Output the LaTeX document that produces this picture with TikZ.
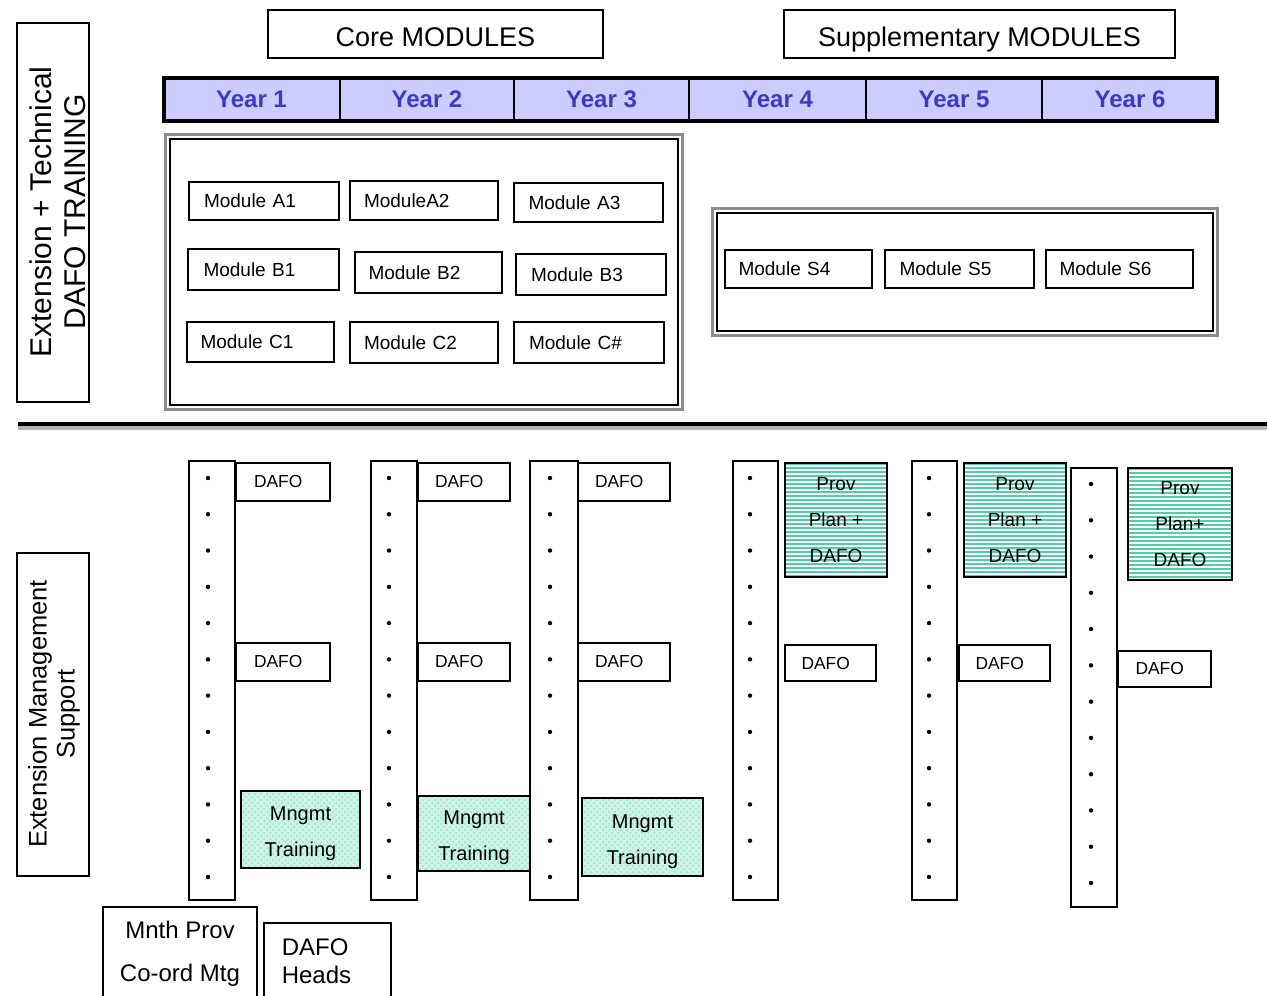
\documentclass[tikz,border=0pt]{standalone}
\usepackage{fontspec}
\setmainfont{Liberation Sans}
\usetikzlibrary{patterns}
\definecolor{yearfill}{HTML}{CCCCFF}
\definecolor{yeartext}{HTML}{3A3AC4}
\definecolor{stripecol}{HTML}{4FCFA6}
\definecolor{mint}{HTML}{CDF3E6}
\definecolor{mintdot}{HTML}{8FDFC2}
\definecolor{framegray}{HTML}{8C8C8C}

% \rectnode{style}{name}{x1}{y1}{x2}{y2}{text}: a node spanning two corners
\newcommand\rectnode[7]{%
  \node[#1,minimum width={(#5-#3)*0.5pt},minimum height={(#6-#4)*0.5pt}]
    (#2) at ({(#3+#5)/2},{(#4+#6)/2}) {#7};}

\begin{document}
\begin{tikzpicture}[x=0.5pt,y=-0.5pt,line width=0.75pt,
  plainbox/.style={draw,inner sep=0pt,outer sep=0pt,align=center},
  hdrbox/.style={plainbox,text height=14pt,text depth=1pt,
    font=\fontsize{13.5}{16}\selectfont},
  sidebox/.style={draw,inner sep=0pt,outer sep=0pt},
  sidetext/.style={rotate=90,align=center,inner sep=0pt},
  yearcell/.style={draw,fill=yearfill,inner sep=0pt,outer sep=0pt,text=yeartext,
    font=\fontsize{12}{14}\selectfont\bfseries},
  modbox/.style={draw,inner sep=0pt,outer sep=0pt,text width=60pt,align=left,
    font=\fontsize{9.5}{11}\selectfont},
  colbox/.style={draw,inner sep=0pt,outer sep=0pt},
  dafobox/.style={draw,fill=white,inner sep=0pt,outer sep=0pt,
    text width=29pt,align=left,font=\fontsize{8.7}{10}\selectfont},
  stripes/.style={path picture={
      \foreach \k in {0,...,30}{
        \draw[stripecol,line width=1.15pt]
          ([yshift=-\k*2pt-0.6pt]path picture bounding box.north west) --
          ([yshift=-\k*2pt-0.6pt]path picture bounding box.north east);
      }}},
  provbox/.style={draw,line width=1pt,fill=white,stripes,inner sep=0pt,outer sep=0pt,
    align=center,font=\fontsize{9.5}{18}\selectfont},
  mngbox/.style={draw,line width=1pt,preaction={fill=mint},
    pattern=crosshatch dots,pattern color=mintdot,inner sep=0pt,outer sep=0pt,
    align=center,text height=29pt,text depth=2pt,font=\fontsize{10}{18}\selectfont},
  bigtext/.style={inner sep=0pt,font=\fontsize{12}{21.5}\selectfont}
]
\useasboundingbox (0,0) rectangle (1267,995);

% ---- headings ----
\rectnode{hdrbox}{core}{268}{10}{603}{58}{Core MODULES}
\rectnode{hdrbox}{supp}{784}{10}{1175}{58}{Supplementary MODULES}

% ---- side labels ----
\rectnode{sidebox}{techbox}{17}{23}{89}{402}{}
\node[sidetext,font=\fontsize{15}{17}\selectfont] (techlabel) at (58,212)
  {Extension + Technical\\DAFO TRAINING};
\rectnode{sidebox}{mgmtbox}{17}{553}{89}{876}{}
\node[sidetext,font=\fontsize{12.75}{14}\selectfont] (mgmtlabel) at (54,714)
  {Extension Management\\Support};

% ---- year bar ----
\rectnode{yearcell}{y1}{163}{77}{340}{122}{Year 1}
\rectnode{yearcell}{y2}{340}{77}{514}{122}{Year 2}
\rectnode{yearcell}{y3}{514}{77}{689}{122}{Year 3}
\rectnode{yearcell}{y4}{689}{77}{866}{122}{Year 4}
\rectnode{yearcell}{y5}{866}{77}{1042}{122}{Year 5}
\rectnode{yearcell}{y6}{1042}{77}{1218}{122}{Year 6}
\rectnode{draw,line width=2pt,inner sep=0pt}{yearbar}{164}{78}{1217}{121}{}

% ---- core module frame ----
\rectnode{draw=framegray,line width=1.5pt,inner sep=0pt}{coreframe}{165.5}{134.5}{682.5}{409.5}{}
\rectnode{sidebox}{coreinner}{170}{139}{678}{405}{}
\rectnode{modbox}{A1}{189}{182}{339}{220}{Module A1}
\rectnode{modbox}{A2}{350}{181}{498}{220}{ModuleA2}
\rectnode{modbox}{A3}{514}{183}{663}{222}{Module A3}
\rectnode{modbox}{B1}{188}{249}{339}{290}{Module B1}
\rectnode{modbox}{B2}{355}{252}{502}{293}{Module B2}
\rectnode{modbox}{B3}{516}{254}{666}{295}{Module B3}
\rectnode{modbox}{C1}{187}{322}{334}{362}{Module C1}
\rectnode{modbox}{C2}{350}{322}{498}{363}{Module C2}
\rectnode{modbox}{C3}{514}{322}{664}{363}{Module C\#}

% ---- supplementary module frame ----
\rectnode{draw=framegray,line width=1.5pt,inner sep=0pt}{suppframe}{712.5}{208.5}{1217.5}{335.5}{}
\rectnode{sidebox}{suppinner}{717}{213}{1213}{331}{}
\rectnode{modbox}{S4}{725}{250}{872}{288}{Module S4}
\rectnode{modbox}{S5}{885}{250}{1034}{288}{Module S5}
\rectnode{modbox}{S6}{1046}{250}{1193}{288}{Module S6}

% ---- separator ----
\coordinate (sepL) at (18,424);
\coordinate (sepR) at (1267,424);
\draw[gray!60,line width=2pt] ([yshift=-1.8pt]sepL) -- ([yshift=-1.8pt]sepR);
\draw[black,line width=1.8pt] (sepL) -- (sepR);

% ---- monthly columns with bullets ----
\rectnode{colbox}{col1}{189}{461}{235}{900}{}
\rectnode{colbox}{col2}{371}{461}{417}{900}{}
\rectnode{colbox}{col3}{530}{461}{578}{900}{}
\rectnode{colbox}{col4}{733}{461}{778}{900}{}
\rectnode{colbox}{col5}{912}{461}{957}{900}{}
\rectnode{colbox}{col6}{1071}{468}{1117}{907}{}
\foreach \cx/\cy in {208/478,389/478,550/478,750/478,929/478,1091/484}{
  \foreach \k in {0,...,11}{
    \fill (\cx,{\cy+\k*36.27}) circle[radius=1.1pt];
  }
}

% ---- DAFO meetings ----
\rectnode{dafobox}{d1a}{236}{463}{330}{501}{DAFO}
\rectnode{dafobox}{d2a}{418}{463}{510}{501}{DAFO}
\rectnode{dafobox}{d3a}{578}{463}{670}{501}{DAFO}
\rectnode{dafobox}{d1b}{236}{643}{330}{681}{DAFO}
\rectnode{dafobox}{d2b}{418}{643}{510}{681}{DAFO}
\rectnode{dafobox}{d3b}{578}{643}{670}{681}{DAFO}
\rectnode{dafobox}{d4b}{785}{645}{876}{681}{DAFO}
\rectnode{dafobox}{d5b}{959}{645}{1050}{681}{DAFO}
\rectnode{dafobox}{d6b}{1118}{651}{1211}{687}{DAFO}

% ---- provincial plans ----
\rectnode{provbox}{p4}{785}{463}{887}{577}{Prov\\Plan +\\DAFO}
\rectnode{provbox}{p5}{964}{463}{1066}{577}{Prov\\Plan +\\DAFO}
\rectnode{provbox}{p6}{1128}{468}{1232}{580}{Prov\\Plan+\\DAFO}

% ---- management training ----
\rectnode{mngbox}{m1}{241}{791}{360}{868}{Mngmt\\Training}
\rectnode{mngbox}{m2}{418}{796}{530}{871}{Mngmt\\Training}
\rectnode{mngbox}{m3}{582}{798}{703}{876}{Mngmt\\Training}

% ---- meetings along the bottom ----
\rectnode{plainbox}{mnth}{103}{907}{257}{1005}{}
\node[bigtext,align=center] (mnthtext) at (180,953.5) {Mnth Prov\\Co-ord Mtg};
\rectnode{plainbox}{heads}{264}{923}{391}{1005}{}
\node[bigtext,align=left,anchor=west,font=\fontsize{12}{14}\selectfont] (headstext) at (281,961) {DAFO\\Heads};
\end{tikzpicture}
\end{document}
